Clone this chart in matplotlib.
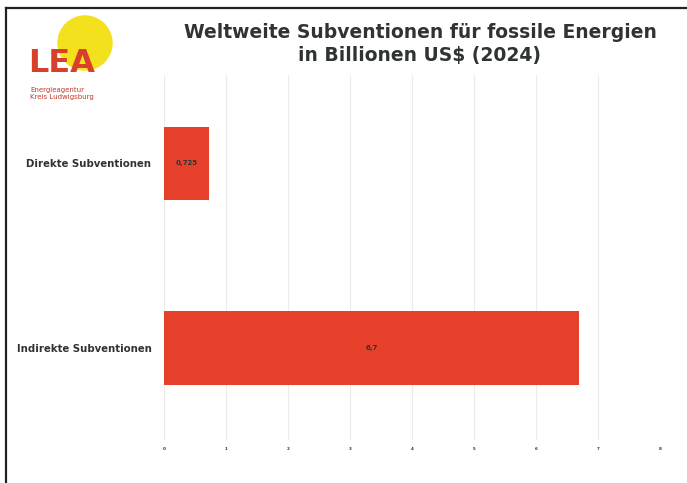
import matplotlib.pyplot as plt
from matplotlib.patches import Circle
from matplotlib.lines import Line2D

# data
categories = ["Indirekte Subventionen", "Direkte Subventionen"]
values = [6.7, 0.725]
value_labels = ["6,7", "0,725"]
ticks = [0, 1, 2, 3, 4, 5, 6, 7, 8]

bar_color = "#e6402a"
text_color = "#2f3433"

fig = plt.figure(figsize=(6.87, 4.83), dpi=100)
ax = fig.add_axes([164 / 687, 1 - 440 / 483, (660 - 164) / 687, (440 - 75) / 483])

ax.barh(range(len(categories)), values, height=0.4, color=bar_color, zorder=3)
for i, (v, lab) in enumerate(zip(values, value_labels)):
    ax.text(v / 2, i, lab, ha="center", va="center", fontsize=5,
            fontweight="heavy", color=text_color, zorder=4)

ax.set_xlim(0, 8)
ax.set_ylim(-0.5, 1.48)
ax.set_yticks(range(len(categories)))
ax.set_yticklabels(categories, fontsize=7.3, fontweight="heavy", color=text_color)
ax.set_xticks(ticks)
ax.set_xticklabels([str(t) for t in ticks], fontsize=3, fontweight="bold",
                   color=text_color)
ax.tick_params(length=0, pad=5)
ax.tick_params(axis="y", pad=9)
ax.grid(axis="x", color="#ececec", linewidth=0.8, zorder=0)
for s in ax.spines.values():
    s.set_visible(False)

# title
fig.text(420 / 687, 1 - 44 / 483,
         "Weltweite Subventionen für fossile Energien\nin Billionen US$ (2024)",
         ha="center", va="center", fontsize=13.5, fontweight="heavy",
         color=text_color, linespacing=1.3)

# logo
logo = fig.add_axes([0, 1 - 110 / 483, 200 / 687, 110 / 483])
logo.set_xlim(0, 200)
logo.set_ylim(110, 0)
logo.set_aspect("equal")
logo.axis("off")
logo.add_patch(Circle((85, 43), 27, color="#f2e11c", zorder=1))
logo.text(28, 64, "LEA", fontsize=23, fontweight="bold", color="#d9402b",
          va="center", ha="left", zorder=2)
logo.text(30, 93, "Energieagentur\nKreis Ludwigsburg", fontsize=5,
          color="#c0392b", va="center", ha="left", linespacing=1.2, zorder=2)

# frame (top and left edges)
fig.add_artist(Line2D([6 / 687, 1], [1 - 8 / 483, 1 - 8 / 483],
                      color="#222222", linewidth=1.6, transform=fig.transFigure))
fig.add_artist(Line2D([6 / 687, 6 / 687], [0, 1 - 8 / 483],
                      color="#222222", linewidth=1.6, transform=fig.transFigure))

fig.savefig("out.png", dpi=100)
